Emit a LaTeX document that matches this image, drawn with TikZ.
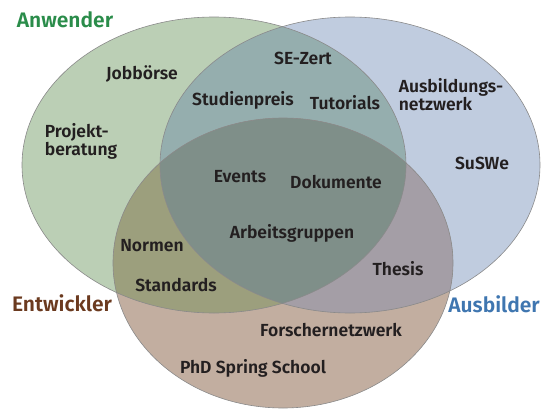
\documentclass[tikz,border=0pt]{standalone}
\usepackage{fontspec}
\setmainfont{Fira Sans}[BoldFont={Fira Sans SemiBold}]
\usetikzlibrary{positioning}

\definecolor{anwcol}{HTML}{BBCFB5}
\definecolor{ausbcol}{HTML}{C0CCDF}
\definecolor{entwcol}{HTML}{C2AEA0}
\definecolor{anwausbcol}{HTML}{95AEAE}
\definecolor{anwentwcol}{HTML}{9C9F7D}
\definecolor{ausbentwcol}{HTML}{A49EA6}
\definecolor{allecol}{HTML}{7F8F89}
\definecolor{randcol}{HTML}{8A8A8A}
\definecolor{textcol}{HTML}{231F20}
\definecolor{anwtitle}{HTML}{2A8C4A}
\definecolor{ausbtitle}{HTML}{3F76B0}
\definecolor{entwtitle}{HTML}{6B3A1F}

\def\anwender{(214,165) ellipse [x radius=192pt, y radius=148pt]}
\def\ausbilder{(350,165) ellipse [x radius=190pt, y radius=148pt]}
\def\entwickler{(283,263) ellipse [x radius=170pt, y radius=145pt]}

\tikzset{
  item/.style={font=\bfseries\fontsize{17.5}{17}\selectfont, text=textcol, inner sep=0pt},
  multi/.style={item, align=left},
  title/.style={font=\bfseries\fontsize{21}{23}\selectfont, inner sep=0pt},
  rand/.style={draw=randcol, line width=0.6pt}
}

\begin{document}
\begin{tikzpicture}[x=1pt, y=-1pt]
            \useasboundingbox (0,0) rectangle (542,410);

            % Flaechen
            \fill [anwcol] \anwender;
            \fill [ausbcol] \ausbilder;
            \fill [entwcol] \entwickler;
            \begin{scope}
                \clip \anwender;
                \fill [anwausbcol] \ausbilder;
                \fill [anwentwcol] \entwickler;
            \end{scope}
            \begin{scope}
                \clip \ausbilder;
                \fill [ausbentwcol] \entwickler;
            \end{scope}
            \begin{scope}
                \clip \anwender;
                \clip \ausbilder;
                \fill [allecol] \entwickler;
            \end{scope}
            \draw [rand] \anwender;
            \draw [rand] \ausbilder;
            \draw [rand] \entwickler;

            % Gruppen
            \node [title, text=anwtitle] (anw) at (65,20) {Anwender};
            \node [title, text=entwtitle] (entw) at (62,303) {Entwickler};
            \node [title, text=ausbtitle, anchor=east] (ausb) at (540,304) {Ausbilder};

            % Eintraege
            \node [item] (jobs) at (142,74) {Jobbörse};
            \node [multi] (proj) at (81,141) {Projekt-\\beratung};
            \node [item] (sezert) at (303,58) {SE-Zert};
            \node [item] (preis) at (243,100) {Studienpreis};
            \node [item] (tut) at (345,103) {Tutorials};
            \node [multi] (netz) at (451,95) {Ausbildungs-\\netzwerk};
            \node [item] (suswe) at (482,163) {SuSWe};
            \node [item] (events) at (240,177) {Events};
            \node [item] (doku) at (336,182) {Dokumente};
            \node [item] (ag) at (292,233) {Arbeitsgruppen};
            \node [item] (normen) at (152,246) {Normen};
            \node [item] (std) at (176,285) {Standards};
            \node [item] (thesis) at (398,269) {Thesis};
            \node [item] (fnetz) at (331,330) {Forschernetzwerk};
            \node [item] (phd) at (253,368) {PhD Spring School};
\end{tikzpicture}
\end{document}
